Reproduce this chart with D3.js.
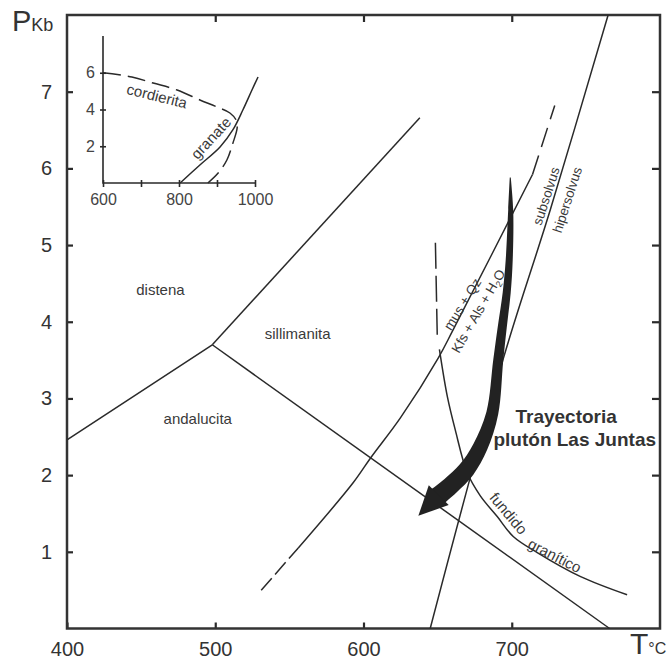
<!DOCTYPE html>
<html>
<head>
<meta charset="utf-8">
<script src="https://cdn.jsdelivr.net/npm/d3@7"></script>
<style>
  body { margin: 0; background: #fff; }
  svg { display: block; font-family: "Liberation Sans", Arial, sans-serif; }
</style>
</head>
<body>
<svg width="668" height="659"></svg>
<script>
// ---- tick values
var tempTicks = [400, 500, 600, 700];
var presTicks = [1, 2, 3, 4, 5, 6, 7];
var insetTempTicks = [600, 700, 800, 900, 1000];
var insetTempLabels = [600, 800, 1000];
var insetPresTicks = [2, 4, 6];

// ---- curves, [T (°C), P (Kb)]
var distenaAndalucita = [[400, 2.46], [498, 3.70]];
var distenaSillimanita = [[498, 3.70], [638, 6.66]];
var andalucitaSillimanita = [[498, 3.70], [766, 0]];

// mus + Qz = Kfs + Als + H2O
var musDashedLow = [[531, 0.5], [556, 1.05]];
var musSolid = [[556, 1.05], [593, 1.90], [605, 2.23], [625, 2.75], [650.5, 3.53], [660.6, 3.90], [714, 5.92]];
var musDashedHigh = [[714, 5.92], [729, 6.82]];

// subsolvus / hipersolvus
var solvus = [[645, 0], [694, 3.5], [726, 5.46], [765, 8]];

// fundido granitico
var fundidoDashed = [[648.5, 5.03], [649.8, 3.77]];
var fundidoSolid = [[651.2, 3.64], [656.6, 3.02], [661.9, 2.59], [670, 2.03], [678.8, 1.73],
                    [690.2, 1.46], [701, 1.20], [717.2, 0.99], [746.1, 0.68], [777.8, 0.44]];

// trayectoria pluton Las Juntas (last point = arrow tip)
var trayectoria = [[699.0, 5.88], [699.3, 5.46], [698.3, 4.81], [696.6, 4.38], [693.6, 3.93],
                   [690.9, 3.50], [686.9, 2.81], [678.8, 2.37], [669.4, 2.07], [658.6, 1.86],
                   [649.8, 1.72], [637.0, 1.47]];

// inset
var cordierita = [[600, 6.0], [676, 5.77], [732, 5.44], [795, 5.06], [855, 4.52], [900, 4.14],
                  [934, 3.81], [951, 3.4], [953, 2.99], [942, 2.18], [926, 1.25], [903, 0.54], [876, 0]];
var granate = [[803, 0], [855, 0.98], [908, 1.96], [942, 2.9], [968, 3.97], [992, 5.06], [1008, 5.77]];

// ---- labels [text, T, P, angle]
var fieldLabels = [
  ["distena", 463, 4.42, 0],
  ["sillimanita", 555.6, 3.84, 0],
  ["andalucita", 488.2, 2.74, 0]
];
var lineLabels = [
  ["mus + Qz", 666.7, 4.23, -58],
  ["subsolvus", 723.2, 5.64, -72],
  ["hipersolvus", 737.4, 5.59, -72]
];
var curveLabels = [
  ["fundido", 697.8, 1.50, 50],
  ["granítico", 729, 0.95, 27]
];
var insetLabels = [
  ["cordierita", 742, 4.73, 14],
  ["granate", 884, 2.45, -47]
];

var svg = d3.select("svg");
var ink = "#2a2a2a";

var x = d3.scaleLinear().domain([400, 800]).range([67, 660]);
var y = d3.scaleLinear().domain([0, 8]).range([628.5, 15]);

var line = d3.line()
    .x(function (d) { return x(d[0]); })
    .y(function (d) { return y(d[1]); })
    .curve(d3.curveCatmullRom);

// axes, ticks pointing inward
svg.append("g")
    .attr("transform", "translate(0," + y(0) + ")")
    .call(d3.axisBottom(x).tickValues(tempTicks).tickSize(-6).tickPadding(13))
    .call(styleAxis);
svg.append("g")
    .attr("transform", "translate(0," + y(8) + ")")
    .call(d3.axisTop(x).tickValues([500, 600, 700]).tickSize(-7).tickFormat(""))
    .call(styleAxis);
svg.append("g")
    .attr("transform", "translate(" + x(400) + ",0)")
    .call(d3.axisLeft(y).tickValues(presTicks).tickSize(-6).tickPadding(15))
    .call(styleAxis);
svg.append("g")
    .attr("transform", "translate(" + x(800) + ",0)")
    .call(d3.axisRight(y).tickValues(presTicks).tickSize(-8).tickFormat(""))
    .call(styleAxis);

function styleAxis(g) {
    g.select(".domain").remove();
    g.selectAll(".tick line").attr("stroke", ink).attr("stroke-width", 2.2);
    g.selectAll(".tick text").attr("fill", "#333").style("font-size", "20px");
}

svg.append("rect")
    .attr("x", x(400)).attr("y", y(8))
    .attr("width", x(800) - x(400)).attr("height", y(0) - y(8))
    .attr("fill", "none").attr("stroke", "#333").attr("stroke-width", 2.5);

// axis titles
var pTitle = svg.append("text").attr("x", 12).attr("y", 31).attr("fill", "#333");
pTitle.append("tspan").style("font-size", "29px").text("P");
pTitle.append("tspan").style("font-size", "18px").text("Kb");
var tTitle = svg.append("text").attr("x", 630).attr("y", 654).attr("fill", "#333");
tTitle.append("tspan").style("font-size", "30px").text("T");
tTitle.append("tspan").style("font-size", "16px").text("°C");

// phase boundaries
function drawCurve(data, dash) {
    svg.append("path")
        .datum(data)
        .attr("d", line)
        .attr("fill", "none")
        .attr("stroke", ink)
        .attr("stroke-width", 1.5)
        .attr("stroke-dasharray", dash || null);
}
drawCurve(distenaAndalucita);
drawCurve(distenaSillimanita);
drawCurve(andalucitaSillimanita);
drawCurve(musDashedLow, "16 5");
drawCurve(musSolid);
drawCurve(musDashedHigh, "20 9");
drawCurve(solvus);
drawCurve(fundidoDashed, "26 7");
drawCurve(fundidoSolid);

// arrow
var pts = trayectoria.map(function (d) { return [x(d[0]), y(d[1])]; });
var tip = pts[pts.length - 1];
var shaft = pts.slice(0, pts.length - 1);
var widths = [1, 5, 7, 8, 9, 10, 12, 15, 17, 18, 19];
var leftSide = [], rightSide = [];
shaft.forEach(function (p, i) {
    var a = shaft[Math.max(i - 1, 0)];
    var b = i < shaft.length - 1 ? shaft[i + 1] : tip;
    var dx = b[0] - a[0], dy = b[1] - a[1], len = Math.hypot(dx, dy);
    var nx = -dy / len, ny = dx / len, w = widths[i] / 2;
    leftSide.push([p[0] + nx * w, p[1] + ny * w]);
    rightSide.push([p[0] - nx * w, p[1] - ny * w]);
});
var pxLine = d3.line().curve(d3.curveCatmullRom);
svg.append("path")
    .attr("d", pxLine(leftSide) + pxLine(rightSide.reverse()).replace(/^M/, "L") + "Z")
    .attr("fill", "#222");
var base = shaft[shaft.length - 1];
var hdx = tip[0] - base[0], hdy = tip[1] - base[1], hlen = Math.hypot(hdx, hdy);
var hnx = -hdy / hlen, hny = hdx / hlen;
svg.append("path")
    .attr("d", d3.line()([
        [base[0] + hnx * 14 - hdx / hlen * 2, base[1] + hny * 14 - hdy / hlen * 2],
        tip,
        [base[0] - hnx * 14 - hdx / hlen * 2, base[1] - hny * 14 - hdy / hlen * 2]
    ]) + "Z")
    .attr("fill", "#222");

// labels
function addLabel(g, d, sx, sy, size) {
    return g.append("text")
        .attr("transform", "translate(" + sx(d[1]) + "," + sy(d[2]) + ") rotate(" + d[3] + ")")
        .attr("text-anchor", "middle")
        .attr("dy", "0.35em")
        .attr("fill", "#3a3a3a")
        .style("font-size", size)
        .text(d[0]);
}
fieldLabels.forEach(function (d) { addLabel(svg, d, x, y, "15px"); });
lineLabels.forEach(function (d) { addLabel(svg, d, x, y, "13.5px"); });
curveLabels.forEach(function (d) { addLabel(svg, d, x, y, "15px"); });

var kfs = svg.append("text")
    .attr("transform", "translate(" + x(677.4) + "," + y(4.14) + ") rotate(-60)")
    .attr("text-anchor", "middle")
    .attr("dy", "0.35em")
    .attr("fill", "#3a3a3a")
    .style("font-size", "13.5px");
kfs.append("tspan").text("Kfs + Als + H");
kfs.append("tspan").attr("dy", 3).style("font-size", "9px").text("2");
kfs.append("tspan").attr("dy", -3).text("O");

svg.append("text")
    .attr("x", x(736.7)).attr("y", y(2.76)).attr("dy", "0.35em")
    .attr("text-anchor", "middle").attr("fill", "#333")
    .style("font-size", "19px").style("font-weight", "bold")
    .text("Trayectoria");
svg.append("text")
    .attr("x", x(742.5)).attr("y", y(2.46)).attr("dy", "0.35em")
    .attr("text-anchor", "middle").attr("fill", "#333")
    .style("font-size", "19px").style("font-weight", "bold")
    .text("plutón Las Juntas");

// ---- inset
var ix = d3.scaleLinear().domain([600, 1000]).range([103, 255]);
var iy = d3.scaleLinear().domain([0, 8]).range([183, 36]);
var iline = d3.line()
    .x(function (d) { return ix(d[0]); })
    .y(function (d) { return iy(d[1]); })
    .curve(d3.curveCatmullRom);

var inset = svg.append("g");
inset.append("path")
    .attr("d", d3.line()([[ix(600), iy(8)], [ix(600), iy(0)], [ix(1000), iy(0)]]))
    .attr("fill", "none").attr("stroke", ink).attr("stroke-width", 1.6);

inset.append("g")
    .attr("transform", "translate(0," + iy(0) + ")")
    .call(d3.axisBottom(ix).tickValues(insetTempTicks).tickSize(4).tickPadding(7)
        .tickFormat(function (d) { return insetTempLabels.indexOf(d) >= 0 ? d : ""; }))
    .call(function (g) {
        g.select(".domain").remove();
        g.selectAll(".tick line").attr("y1", -3).attr("stroke", ink).attr("stroke-width", 1.6);
        g.selectAll(".tick text").attr("fill", "#444").style("font-size", "16px");
    });
inset.append("g")
    .attr("transform", "translate(" + ix(600) + ",0)")
    .call(d3.axisLeft(iy).tickValues(insetPresTicks).tickSize(3).tickPadding(5))
    .call(function (g) {
        g.select(".domain").remove();
        g.selectAll(".tick line").attr("x1", 3).attr("stroke", ink).attr("stroke-width", 1.6);
        g.selectAll(".tick text").attr("fill", "#444").style("font-size", "16px");
    });

inset.append("path").datum(cordierita).attr("d", iline)
    .attr("fill", "none").attr("stroke", ink).attr("stroke-width", 1.5)
    .attr("stroke-dasharray", "18 7");
inset.append("path").datum(granate).attr("d", iline)
    .attr("fill", "none").attr("stroke", ink).attr("stroke-width", 1.5);
insetLabels.forEach(function (d) { addLabel(inset, d, ix, iy, "15px"); });
</script>
</body>
</html>
